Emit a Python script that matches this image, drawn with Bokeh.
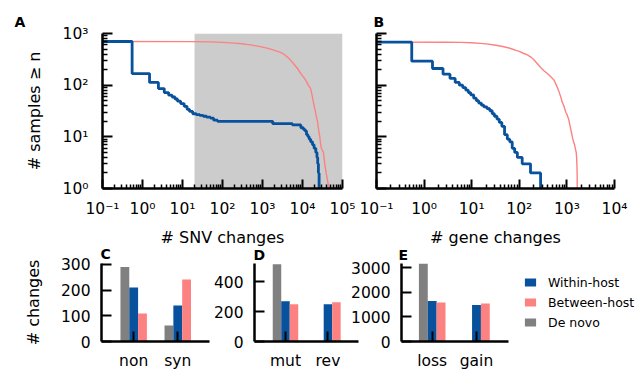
import numpy as np
from bokeh.plotting import figure
from bokeh.layouts import row, column
from bokeh.models import (FixedTicker, CustomJSTickFormatter, BoxAnnotation,
                          Legend, LegendItem, Range1d)
from bokeh.embed import file_html
from bokeh.resources import INLINE

# ---------------- data ----------------
# Panel A: survival curves of SNV changes (# samples with >= n changes)
snv_within_x = [0.05, 0.55, 1.5, 2.5, 3.5, 4.5, 5.5, 6.5, 7.5, 9, 11, 13, 15, 18, 22, 27, 33, 40,
                50, 60, 75, 1800, 5600, 9100, 10500, 11500, 12600, 13700, 14700, 16000, 17800,
                19500, 21500, 23000, 24000, 25000, 26000]
snv_within_n = [700, 168, 113, 86, 72, 64, 59, 54, 49, 44, 39, 34, 31, 28, 27, 26, 25, 24,
                23, 21, 20, 18, 17, 15, 14, 13, 11, 10, 9, 8, 7,
                6, 5, 4, 3, 2, 1]
snv_between_x = [0.05, 20, 50, 100, 200, 300, 400, 550, 700, 1000, 1300, 1600, 2000, 2400, 2900,
                 3300, 3700, 4100, 4600, 5000, 5500, 6000, 6500, 7000, 7500, 8200, 9000, 9800,
                 10500, 11200, 12000, 13000, 14000, 15000, 16000, 16800, 17500, 18400, 19400,
                 20400, 21500, 22600, 23700, 24600, 25500, 26500, 27500, 28500, 29700, 33300,
                 34500, 36000, 39000, 46000]
snv_between_n = [700, 695, 688, 672, 652, 635, 615, 595, 575, 545, 520, 497, 470, 450, 428,
                 405, 380, 355, 328, 305, 280, 260, 240, 225, 210, 190, 170, 155,
                 145, 135, 125, 112, 100, 92, 86, 72, 62, 50, 41,
                 34, 28, 23, 20, 16, 13, 11, 9, 7, 6, 5,
                 4, 3, 2, 1]
snv_shade_start = 20

# Panel B: survival curves of gene changes
gene_within_x = [0.05, 0.55, 1.5, 2.5, 3.5, 4.5, 5.5, 6.5, 7.5, 8.5, 9.5, 11, 12.5, 14, 16, 18,
                 21, 24, 27, 30, 34, 38, 43, 49, 56, 63, 71, 80, 91, 115, 172, 280]
gene_within_n = [680, 291, 210, 163, 135, 113, 100, 90, 80, 72, 65, 56, 50, 45, 41, 38,
                 35, 32, 28, 25, 22, 19, 16, 11, 9, 8, 6, 5, 4, 3, 2, 1]
gene_between_x = [0.05, 3, 6, 10, 15, 20, 30, 45, 66, 85, 100, 125, 148, 175, 200, 240, 280,
                  330, 400, 470, 540, 580, 630, 680, 740, 790, 860, 950, 1020, 1090, 1170,
                  1250, 1300, 1380, 1450, 1500, 1570, 1600, 1620, 1640, 1650]
gene_between_n = [680, 678, 672, 660, 645, 630, 600, 560, 512, 470, 450, 410, 385, 350, 315,
                  260, 220, 190, 165, 142, 125, 107, 90, 75, 60, 48, 40, 30, 26, 22, 16,
                  12, 10, 8, 7, 6, 5, 4, 3, 2, 1]

# Panels C, D, E: bar counts
c_categories = ["non", "syn"]
c_within = [210, 140]
c_between = [109, 241]
c_denovo = [289, 62]

d_categories = ["mut", "rev"]
d_within = [270, 250]
d_between = [250, 263]
d_denovo = [519, 0]

e_categories = ["loss", "gain"]
e_within = [1656, 1492]
e_between = [1586, 1545]
e_denovo = [3177, 0]

series_names = ["Within-host", "Between-host", "De novo"]

snv_x_ticks = [0.1, 1, 10, 100, 1000, 10000, 100000]
gene_x_ticks = [0.1, 1, 10, 100, 1000, 10000]
samples_y_ticks = [1, 10, 100, 1000]
c_y_ticks = [0, 100, 200, 300]
d_y_ticks = [0, 200, 400]
e_y_ticks = [0, 1000, 2000, 3000]

# ---------------- style ----------------
FONT = "DejaVu Sans"
BLUE = "#08519c"
PINK = "#fc8282"
GRAY = "#808080"
SHADE = "#cccccc"
TICK_FS = "15.5px"
LABEL_FS = "16px"
TOP_H = 250
OVERLAP = 15


def minor_of(majors):
    return [m * k for m in majors[:-1] for k in range(2, 10)]


sup_formatter_code = """
const s = {"-":"\u207b","0":"\u2070","1":"\u00b9","2":"\u00b2","3":"\u00b3","4":"\u2074",
           "5":"\u2075","6":"\u2076","7":"\u2077","8":"\u2078","9":"\u2079"};
const e = Math.round(Math.log10(tick));
return "10" + String(e).split("").map(c => s[c]).join("");
"""


def style_axis(ax):
    ax.axis_line_width = 2.5
    ax.axis_line_color = "black"
    ax.major_tick_line_color = "black"
    ax.minor_tick_line_color = "black"
    ax.major_tick_line_width = 2
    ax.minor_tick_line_width = 1.5
    ax.major_label_text_font = FONT
    ax.major_label_text_font_size = TICK_FS
    ax.major_label_text_color = "black"
    ax.axis_label_text_font = FONT
    ax.axis_label_text_font_size = LABEL_FS
    ax.axis_label_text_font_style = "normal"
    ax.axis_label_text_color = "black"


def base_fig(**kw):
    p = figure(output_backend="svg", toolbar_location=None, **kw)
    p.outline_line_color = None
    p.xgrid.visible = False
    p.ygrid.visible = False
    p.border_fill_color = "white"
    return p


def panel_letter(p, text, offset, standoff):
    p.title.text = text
    p.title.align = "left"
    p.title.offset = offset
    p.title.standoff = standoff
    p.title.vertical_align = "bottom"
    p.title.text_font = FONT
    p.title.text_font_style = "bold"
    p.title.text_font_size = "14px"
    p.title.text_color = "black"


def log_panel(width, x_end, x_ticks, min_left, min_right, y_range=None):
    p = base_fig(width=width, height=TOP_H, x_axis_type="log", y_axis_type="log",
                 x_range=Range1d(x_ticks[0], x_end),
                 y_range=y_range if y_range is not None else Range1d(samples_y_ticks[0], samples_y_ticks[-1]),
                 min_border_left=min_left, min_border_right=min_right,
                 min_border_top=33, min_border_bottom=TOP_H - 188)
    for ax in (p.xaxis[0], p.yaxis[0]):
        style_axis(ax)
        ax.major_tick_out = 0
        ax.minor_tick_out = 0
        ax.formatter = CustomJSTickFormatter(code=sup_formatter_code)
    p.xaxis[0].ticker = FixedTicker(ticks=x_ticks, minor_ticks=minor_of(x_ticks))
    p.yaxis[0].ticker = FixedTicker(ticks=samples_y_ticks, minor_ticks=minor_of(samples_y_ticks))
    p.xaxis[0].major_tick_in = 9
    p.xaxis[0].minor_tick_in = 4
    p.yaxis[0].major_tick_in = 10
    p.yaxis[0].minor_tick_in = 5
    p.xaxis[0].major_label_standoff = 11
    p.xaxis[0].axis_label_standoff = 7
    return p


# ---------------- panel A ----------------
pA = log_panel(356, snv_x_ticks[-1], snv_x_ticks, 102, 14)
pA.add_layout(BoxAnnotation(left=snv_shade_start, fill_color=SHADE, fill_alpha=1.0,
                            line_color=None, level="underlay"))
pA.line(snv_between_x, snv_between_n, line_color=PINK, line_width=1.4)
pA.step(snv_within_x, snv_within_n, mode="after", line_color=BLUE, line_width=2.8)
pA.xaxis[0].axis_label = "# SNV changes"
pA.yaxis[0].axis_label = "# samples \u2265 n"
pA.yaxis[0].major_label_standoff = 14
pA.yaxis[0].axis_label_standoff = 16
panel_letter(pA, "A", -88, 7)

# ---------------- panel B ----------------
pB = log_panel(283, gene_x_ticks[-1], gene_x_ticks, 20, 25, y_range=pA.y_range)
pB.line(gene_between_x, gene_between_n, line_color=PINK, line_width=1.4)
pB.step(gene_within_x, gene_within_n, mode="after", line_color=BLUE, line_width=2.8)
pB.xaxis[0].axis_label = "# gene changes"
pB.yaxis[0].major_label_text_color = None
pB.yaxis[0].major_label_standoff = 0
panel_letter(pB, "B", -3, 7)


# ---------------- bar panels ----------------
def bar_panel(width, cats, within, between, denovo, y_end, y_ticks, min_left, min_right,
              x_start=-0.73, x_end=1.72, axis_end=None):
    p = base_fig(width=width, height=373 - TOP_H + OVERLAP, x_range=Range1d(x_start, x_end),
                 y_range=Range1d(0, y_end),
                 min_border_left=min_left, min_border_right=min_right,
                 min_border_top=263 - TOP_H + OVERLAP, min_border_bottom=32)
    p.border_fill_alpha = 0
    p.margin = (-OVERLAP, 0, 0, 0)
    xs = np.arange(len(cats))
    rg = p.vbar(x=xs - 0.2, top=denovo, width=0.2, fill_color=GRAY, line_color=None)
    rb = p.vbar(x=xs, top=within, width=0.2, fill_color=BLUE, line_color=None)
    rp = p.vbar(x=xs + 0.2, top=between, width=0.2, fill_color=PINK, line_color=None)
    for ax in (p.xaxis[0], p.yaxis[0]):
        style_axis(ax)
        ax.major_tick_out = 0
        ax.major_tick_in = 10
        ax.minor_tick_line_color = None
        ax.major_label_standoff = 11
    if axis_end is not None:
        p.xaxis[0].bounds = (x_start, axis_end)
    p.xaxis[0].ticker = FixedTicker(ticks=list(xs))
    p.xaxis[0].major_label_overrides = {int(i): c for i, c in zip(xs, cats)}
    p.xaxis[0].major_label_standoff = 10
    p.yaxis[0].ticker = FixedTicker(ticks=y_ticks)
    return p, rb, rp, rg


pC, _, _, _ = bar_panel(210, c_categories, c_within, c_between, c_denovo, 303, c_y_ticks, 101, 1)
pC.yaxis[0].axis_label = "# changes"
pC.yaxis[0].axis_label_standoff = 15
panel_letter(pC, "C", -1, 4)

pD, _, _, _ = bar_panel(150, d_categories, d_within, d_between, d_denovo, 524, d_y_ticks, 41, 2)
panel_letter(pD, "D", -1, 1)

pE, rb, rp, rg = bar_panel(291, e_categories, e_within, e_between, e_denovo, 3180, e_y_ticks, 53, 0,
                           x_start=-0.693, x_end=4.68, axis_end=1.716)
pE.background_fill_alpha = 0
pE.margin = (-OVERLAP, 0, 0, -12)
panel_letter(pE, "E", -3, 1)

legend = Legend(items=[LegendItem(label=series_names[0], renderers=[rb]),
                       LegendItem(label=series_names[1], renderers=[rp]),
                       LegendItem(label=series_names[2], renderers=[rg])],
                location=(122, 9), orientation="vertical", padding=0, margin=0, spacing=0,
                glyph_width=14, glyph_height=10, label_standoff=11, label_height=20,
                label_text_font=FONT, label_text_font_size="12.5px", label_text_color="black",
                border_line_color=None, background_fill_alpha=0)
pE.add_layout(legend)

layout = column(row(pA, pB), row(pC, pD, pE))

open("out.html", "w").write(file_html(layout, INLINE))
